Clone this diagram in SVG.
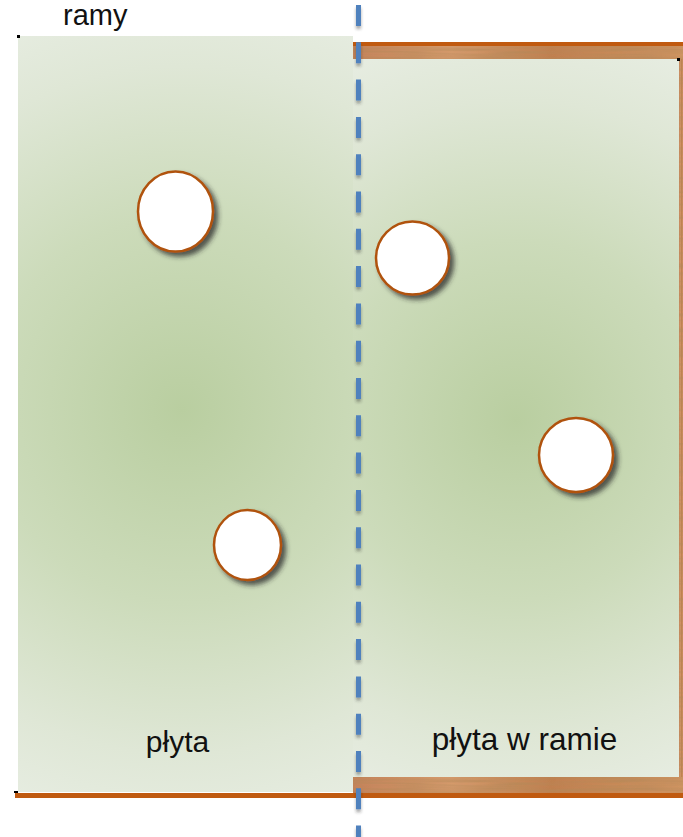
<svg xmlns="http://www.w3.org/2000/svg" width="683" height="837" viewBox="0 0 683 837">
<style>
.lbl{font-family:"Liberation Sans",Arial,sans-serif;fill:#111;}
.hole{fill:#fff;stroke:#b0520e;stroke-width:2.5;filter:url(#sh);}
.wood{fill:url(#woodG);filter:url(#grain);}
.edge{fill:#c05a10;}
</style>
<defs>
<radialGradient id="panelL" gradientUnits="userSpaceOnUse" cx="182" cy="410" r="430">
<stop offset="0" stop-color="#b9cea0"/>
<stop offset="0.45" stop-color="#ccdbba"/>
<stop offset="0.8" stop-color="#dfe7d6"/>
<stop offset="1" stop-color="#e7ede2"/>
</radialGradient>
<radialGradient id="panelR" gradientUnits="userSpaceOnUse" cx="516" cy="420" r="400">
<stop offset="0" stop-color="#b9cea0"/>
<stop offset="0.45" stop-color="#ccdbba"/>
<stop offset="0.8" stop-color="#dfe7d6"/>
<stop offset="1" stop-color="#e7ede2"/>
</radialGradient>
<linearGradient id="woodG" x1="0" y1="0" x2="1" y2="0">
<stop offset="0" stop-color="#c4835a"/>
<stop offset="0.3" stop-color="#d49a6c"/>
<stop offset="0.6" stop-color="#c08050"/>
<stop offset="1" stop-color="#cf9462"/>
</linearGradient>
<filter id="grain" x="0" y="0" width="100%" height="100%">
<feTurbulence type="fractalNoise" baseFrequency="0.015 0.35" numOctaves="2" seed="3" result="n"/>
<feColorMatrix in="n" type="matrix" values="0 0 0 0 0.45  0 0 0 0 0.25  0 0 0 0 0.1  0 0 0 1.2 -0.35" result="c"/>
<feComposite in="c" in2="SourceGraphic" operator="in" result="cc"/>
<feMerge><feMergeNode in="SourceGraphic"/><feMergeNode in="cc"/></feMerge>
</filter>
<filter id="sh" x="-30%" y="-30%" width="170%" height="170%">
<feDropShadow dx="4" dy="4" stdDeviation="2.5" flood-color="#2a2a2a" flood-opacity="0.75"/>
</filter>
<filter id="dsh" filterUnits="userSpaceOnUse" x="340" y="0" width="40" height="837">
<feDropShadow dx="0" dy="3" stdDeviation="1.5" flood-color="#333" flood-opacity="0.4"/>
</filter>
</defs>

<g id="frame">
<rect class="wood" x="353" y="46" width="330" height="13"/>
<rect class="edge" x="353" y="42" width="330" height="4"/>
<rect class="wood" x="679" y="59" width="4" height="718"/>
<rect class="wood" x="353" y="777" width="330" height="16"/>
<rect class="edge" x="15" y="793" width="668" height="5"/>
</g>

<g id="plyta">
<rect x="18" y="36" width="335" height="756" fill="url(#panelL)"/>
<rect x="17" y="35" width="3" height="3" fill="#000"/>
<rect x="14" y="791" width="4" height="2" fill="#000"/>
<text class="lbl" x="177.5" y="752" font-size="30" text-anchor="middle">płyta</text>
</g>

<g id="plyta-w-ramie">
<rect x="353" y="59" width="326" height="718" fill="url(#panelR)"/>
<rect x="677" y="58" width="3" height="3" fill="#000"/>
<text class="lbl" x="524.5" y="750" font-size="31.5" text-anchor="middle">płyta w ramie</text>
</g>

<g id="label-ramy">
<text class="lbl" x="63" y="25" font-size="29">ramy</text>
</g>

<g id="holes">
<ellipse class="hole" cx="175.5" cy="211.5" rx="37.5" ry="40"/>
<ellipse class="hole" cx="247.5" cy="545" rx="33.5" ry="35"/>
<ellipse class="hole" cx="412.5" cy="258" rx="36.5" ry="36.5"/>
<ellipse class="hole" cx="576" cy="455" rx="37" ry="37"/>
</g>

<g id="connectors">
<line x1="358.5" y1="5" x2="358.5" y2="837" stroke="#4f81bd" stroke-width="5" stroke-dasharray="21 16.3" filter="url(#dsh)"/>
</g>
</svg>
